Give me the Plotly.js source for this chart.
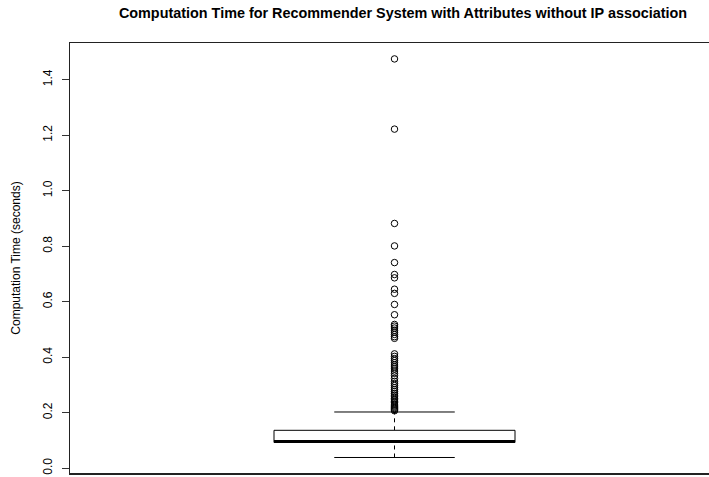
<!DOCTYPE html>
<html>
<head>
<meta charset="utf-8">
<script src="https://cdn.plot.ly/plotly-3.0.1.min.js"></script>
<style>
  html, body { margin: 0; padding: 0; background: #fff; }
  #chart { width: 709px; height: 477px; }
</style>
</head>
<body>
<div id="chart"></div>
<script>
// Five-number summary of the computation times (seconds)
const lowerWhisker = 0.0385;
const q1 = 0.0925;
const median = 0.0965;
const q3 = 0.1365;
const upperWhisker = 0.2025;

// Observations beyond the upper whisker
const outliers = [
  1.475, 1.222, 0.882, 0.801, 0.741, 0.698, 0.686, 0.645, 0.630, 0.590,
  0.553, 0.518, 0.512, 0.505, 0.497, 0.490, 0.482, 0.474, 0.468,
  0.412, 0.403, 0.395, 0.388, 0.380, 0.372, 0.365, 0.358, 0.350, 0.342,
  0.333, 0.323, 0.313, 0.305, 0.298, 0.290, 0.283, 0.276, 0.269, 0.263,
  0.257, 0.251, 0.246, 0.241, 0.236, 0.231, 0.227, 0.223, 0.219, 0.215,
  0.211, 0.207
];

const yTicks = [0.0, 0.2, 0.4, 0.6, 0.8, 1.0, 1.2, 1.4];
const yTickText = ['0.0', '0.2', '0.4', '0.6', '0.8', '1.0', '1.2', '1.4'];

// Box geometry (in x-axis units, centred at 1)
const xc = 1;
const boxHalf = 0.4;
const capHalf = 0.2;

const black = '#000000';
const traces = [];

// Dashed whiskers
traces.push({
  x: [xc, xc, null, xc, xc],
  y: [q3, upperWhisker, null, lowerWhisker, q1],
  mode: 'lines', type: 'scatter', hoverinfo: 'skip',
  line: { color: black, width: 1, dash: '4px,4px' }
});
// Whisker caps
traces.push({
  x: [xc - capHalf, xc + capHalf, null, xc - capHalf, xc + capHalf],
  y: [upperWhisker, upperWhisker, null, lowerWhisker, lowerWhisker],
  mode: 'lines', type: 'scatter', hoverinfo: 'skip',
  line: { color: black, width: 1 }
});
// Box outline
traces.push({
  x: [xc - boxHalf, xc + boxHalf, xc + boxHalf, xc - boxHalf, xc - boxHalf],
  y: [q1, q1, q3, q3, q1],
  mode: 'lines', type: 'scatter', fill: 'toself', fillcolor: '#ffffff',
  hoverinfo: 'skip',
  line: { color: black, width: 1 }
});
// Median bar
traces.push({
  x: [xc - boxHalf, xc + boxHalf],
  y: [median, median],
  mode: 'lines', type: 'scatter', hoverinfo: 'skip',
  line: { color: black, width: 3 }
});
// Outliers
traces.push({
  x: outliers.map(() => xc),
  y: outliers,
  mode: 'markers', type: 'scatter',
  marker: { symbol: 'circle-open', size: 6.5, color: black, line: { width: 1, color: black } }
});

const layout = {
  width: 709, height: 477,
  margin: { l: 70, r: 0, t: 43, b: 4 },
  paper_bgcolor: '#ffffff', plot_bgcolor: '#ffffff',
  showlegend: false,
  font: { family: 'Liberation Sans, Arial, sans-serif', color: '#000', size: 12 },
  title: {
    text: '<b>Computation Time for Recommender System with Attributes without IP association</b>',
    font: { size: 14.4, color: '#000' },
    x: 403 / 709, xref: 'container', xanchor: 'center',
    y: 1 - 13 / 477, yref: 'container', yanchor: 'middle'
  },
  xaxis: {
    range: [-0.0772, 2.044],
    showgrid: false, zeroline: false, showticklabels: false, ticks: '',
    showline: true, linecolor: '#222', linewidth: 1.5, mirror: true
  },
  yaxis: {
    range: [-0.0174, 1.5324],
    tickvals: yTicks, ticktext: yTickText,
    tickangle: -90,
    ticks: 'outside', ticklen: 7, tickcolor: '#333', tickwidth: 1,
    ticklabelstandoff: 5,
    tickfont: { size: 12, color: '#000' },
    showgrid: false, zeroline: false,
    showline: true, linecolor: '#222', linewidth: 1.5, mirror: false,
    title: { text: 'Computation Time (seconds)', font: { size: 12, color: '#000' }, standoff: 17 }
  }
};

Plotly.newPlot('chart', traces, layout, { displayModeBar: false, staticPlot: true });
</script>
</body>
</html>
